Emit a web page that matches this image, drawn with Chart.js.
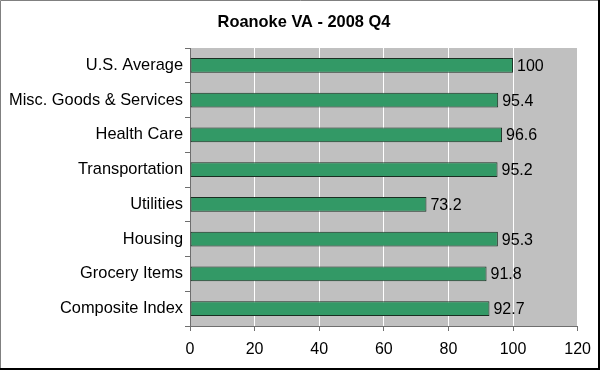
<!DOCTYPE html>
<html lang="en">
<head>
  <meta charset="UTF-8" />
  <title>Roanoke VA - 2008 Q4</title>
  <script src="https://cdn.jsdelivr.net/npm/chart.js"></script>
  <style>
    body {
      margin: 0;
      background: #fff;
    }
    .wrap {
      width: 600px;
      height: 370px;
      position: relative;
    }
  </style>
</head>
<body>

<div class="wrap">
  <canvas id="costChart" width="600" height="370"></canvas>
</div>

<script>
const chartTitle = "Roanoke VA - 2008 Q4";
const categories = [
  "U.S. Average",
  "Misc. Goods & Services",
  "Health Care",
  "Transportation",
  "Utilities",
  "Housing",
  "Grocery Items",
  "Composite Index"
];
const indexValues = [100, 95.4, 96.6, 95.2, 73.2, 95.3, 91.8, 92.7];
const xTicks = [0, 20, 40, 60, 80, 100, 120];

const FONT = "'Liberation Sans', Arial, sans-serif";

// gray plot background, frame, title and the value labels
const excelLook = {
  id: 'excelLook',
  beforeDraw(chart) {
    const { ctx, chartArea: a } = chart;
    ctx.save();
    ctx.fillStyle = '#c0c0c0';
    ctx.fillRect(a.left, a.top, a.right - a.left, a.bottom - a.top);
    ctx.restore();
  },
  afterDatasetsDraw(chart) {
    const ctx = chart.ctx;
    const meta = chart.getDatasetMeta(0);
    ctx.save();
    ctx.font = '16px ' + FONT;
    ctx.fillStyle = '#000';
    ctx.textAlign = 'left';
    ctx.textBaseline = 'middle';
    meta.data.forEach((bar, i) => {
      ctx.fillText(String(indexValues[i]), bar.x + 4, bar.y + 1);
    });
    ctx.restore();
  },
  afterDraw(chart) {
    const ctx = chart.ctx;
    const w = chart.width, h = chart.height;
    ctx.save();
    ctx.font = 'bold 16.4px ' + FONT;
    ctx.fillStyle = '#000';
    ctx.textAlign = 'center';
    ctx.textBaseline = 'middle';
    ctx.fillText(chartTitle, 304, 22);

    ctx.strokeStyle = '#808080';
    ctx.lineWidth = 1;
    ctx.beginPath();
    ctx.moveTo(0.5, h);
    ctx.lineTo(0.5, 0.5);
    ctx.lineTo(w, 0.5);
    ctx.stroke();
    ctx.strokeStyle = '#000';
    ctx.lineWidth = 2;
    ctx.beginPath();
    ctx.moveTo(w - 1, 0);
    ctx.lineTo(w - 1, h - 1);
    ctx.lineTo(0, h - 1);
    ctx.stroke();
    ctx.restore();
  }
};

const ctx = document.getElementById('costChart').getContext('2d');
new Chart(ctx, {
  type: 'bar',
  data: {
    labels: categories,
    datasets: [{
      data: indexValues,
      backgroundColor: '#339966',
      borderColor: '#1a2e22',
      borderWidth: 1,
      borderSkipped: false,
      categoryPercentage: 1,
      barPercentage: 0.42
    }]
  },
  options: {
    indexAxis: 'y',
    responsive: false,
    animation: false,
    layout: { padding: { top: 48, right: 22, bottom: 0, left: 0 } },
    plugins: {
      legend: { display: false },
      tooltip: { enabled: false }
    },
    scales: {
      x: {
        min: 0,
        max: 120,
        afterBuildTicks(scale) {
          scale.ticks = xTicks.map(v => ({ value: v }));
        },
        afterFit(scale) { scale.height = 44; },
        grid: {
          color: '#ffffff',
          lineWidth: 1,
          tickColor: '#6e6e6e',
          tickLength: 5
        },
        border: { color: '#6e6e6e', width: 1 },
        ticks: {
          color: '#000',
          padding: 9,
          font: { family: FONT, size: 16 }
        }
      },
      y: {
        afterFit(scale) { scale.width = 190; },
        grid: {
          drawOnChartArea: false,
          tickColor: '#6e6e6e',
          tickLength: 5,
          offset: true
        },
        border: { color: '#6e6e6e', width: 1 },
        ticks: {
          color: '#000',
          padding: 2,
          font: { family: FONT, size: 16.4 }
        }
      }
    }
  },
  plugins: [excelLook]
});
</script>

</body>
</html>
